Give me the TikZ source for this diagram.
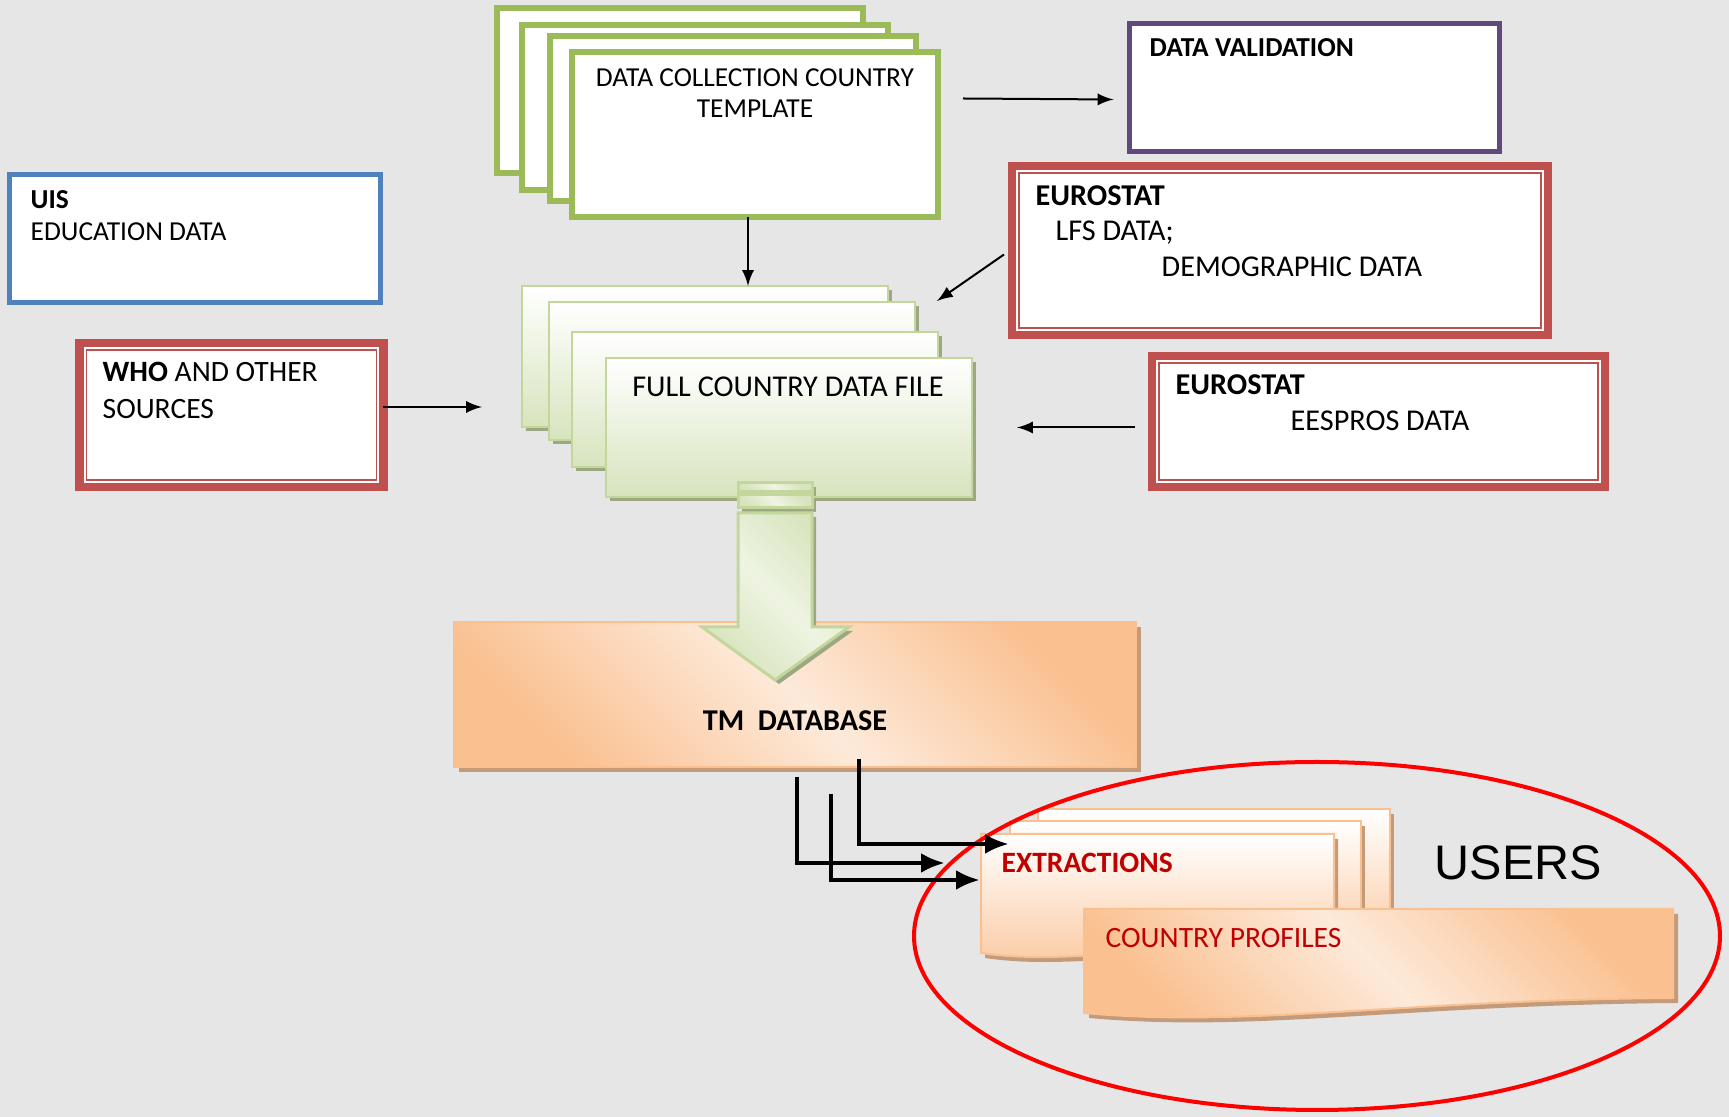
\documentclass[tikz,border=0pt]{standalone}
\usepackage{fontspec}
\setmainfont{Carlito}
\newfontfamily\usersfont{Liberation Sans}
\usetikzlibrary{shadows,arrows.meta}

\definecolor{bggray}{HTML}{E6E6E6}
\definecolor{tplgreen}{HTML}{9BBB59}
\definecolor{uisblue}{HTML}{4F81BD}
\definecolor{valpurple}{HTML}{604A7B}
\definecolor{srcred}{HTML}{C0504D}
\definecolor{fileedge}{HTML}{C3D69B}
\definecolor{filegreen}{HTML}{D7E4BD}
\definecolor{filelight}{HTML}{EEF4E2}
\definecolor{fileshadow}{HTML}{9BA882}
\definecolor{dborange}{HTML}{FAC090}
\definecolor{dblight}{HTML}{FDEADA}
\definecolor{dbshadow}{HTML}{C39B7B}
\definecolor{xtrred}{HTML}{C00000}

\tikzset{
  box/.style={anchor=north west, inner sep=0pt, outer sep=0pt},
  tplbox/.style={box, draw=tplgreen, line width=0.6mm, fill=white, minimum width=36.6mm, minimum height=16.5mm},
  filebox/.style={box, draw=fileedge, line width=0.2mm, top color=white, bottom color=filegreen,
    general shadow={fill=fileshadow, shadow xshift=0.4mm, shadow yshift=-0.4mm}, minimum width=36.6mm},
  srcbox/.style={box, draw=srcred, line width=0.85mm, fill=white,
    path picture={\draw[srcred, line width=0.15mm]
      ([shift={(0.72mm,0.72mm)}]path picture bounding box.south west) rectangle
      ([shift={(-0.72mm,-0.72mm)}]path picture bounding box.north east);}},
  lbl/.style={anchor=base west, inner sep=0pt, font=\fontsize{7.8}{9}\selectfont},
  big/.style={font=\fontsize{8.6}{10}\selectfont},
  orangefill/.style={draw=dborange, line width=0.2mm, left color=dborange, right color=dborange,
    middle color=dblight, shading angle=135,
    general shadow={fill=dbshadow, shadow xshift=0.5mm, shadow yshift=-0.5mm}},
  xtrfill/.style={draw=dborange, line width=0.2mm, top color=white, bottom color=dborange!85!white,
    general shadow={fill=dbshadow, shadow xshift=0.4mm, shadow yshift=-0.5mm}},
  greenarrow/.style={draw=fileedge, line width=0.3mm, left color=filegreen, right color=filegreen,
    middle color=filelight, shading angle=135,
    general shadow={fill=fileshadow, shadow xshift=0.4mm, shadow yshift=-0.4mm}},
  thinarrow/.style={-latex, line width=0.2mm},
  elbow/.style={-{Latex[length=2.4mm,width=2mm]}, line width=0.45mm},
}

\begin{document}
\begin{tikzpicture}[x=0.1mm, y=-0.1mm]
  \fill[bggray] (0,0) rectangle (1729,1117);
  \useasboundingbox (0,0) rectangle (1729,1117);
  %-- data collection templates
  \node[tplbox] (tpl1) at (497,8) {};
  \node[tplbox] (tpl2) at (522,25) {};
  \node[tplbox] (tpl3) at (550,36) {};
  \node[tplbox] (tpl4) at (572,52) {};
  \node[lbl, anchor=base] (tplT1) at (755,87) {DATA COLLECTION COUNTRY};
  \node[lbl, anchor=base] (tplT2) at (755,118) {TEMPLATE};
  %-- data validation
  \node[box, draw=valpurple, line width=0.47mm, fill=white, minimum width=37mm, minimum height=12.8mm] (val) at (1129.5,23.5) {};
  \node[lbl] (valT) at (1149,57) {\textbf{DATA VALIDATION}};
  %-- uis
  \node[box, draw=uisblue, line width=0.5mm, fill=white, minimum width=37.1mm, minimum height=12.8mm] (uis) at (9.5,174.5) {};
  \node[lbl] (uisT1) at (30,209) {\textbf{UIS}};
  \node[lbl] (uisT2) at (30,241) {EDUCATION DATA};
  %-- who
  \node[srcbox, minimum width=30.4mm, minimum height=14.4mm] (who) at (79.5,343) {};
  \node[lbl, font=\fontsize{8.4}{10}\selectfont] (whoT1) at (102,382) {\textbf{WHO} AND OTHER};
  \node[lbl, font=\fontsize{8.4}{10}\selectfont] (whoT2) at (102,419) {SOURCES};
  %-- eurostat lfs
  \node[srcbox, minimum width=53.6mm, minimum height=16.9mm] (lfs) at (1012,166) {};
  \node[lbl, big] (lfsT1) at (1035,206) {\textbf{EUROSTAT}};
  \node[lbl, big] (lfsT2) at (1055,241) {LFS DATA;};
  \node[lbl, big] (lfsT3) at (1161,277) {DEMOGRAPHIC DATA};
  %-- eurostat eespros
  \node[srcbox, minimum width=45.3mm, minimum height=13.1mm] (ees) at (1152,356) {};
  \node[lbl, big] (eesT1) at (1175,395) {\textbf{EUROSTAT}};
  \node[lbl, big] (eesT2) at (1290,431) {EESPROS DATA};
  %-- full country data files
  \node[filebox, minimum height=14.1mm] (file1) at (522,286) {};
  \node[filebox, minimum height=13.8mm] (file2) at (549,302) {};
  \node[filebox, minimum height=13.5mm] (file3) at (572,332) {};
  \node[filebox, minimum height=13.9mm] (file4) at (606,358) {};
  \node[lbl, big, anchor=base] (fileT) at (788,397) {FULL COUNTRY DATA FILE};
  %-- tm database
  \node[box, orangefill, minimum width=68.2mm, minimum height=14.5mm] (db) at (454,622) {};
  \node[lbl, big, anchor=base] (dbT) at (795,731) {\textbf{TM\ \ DATABASE}};
  %-- block arrow into the database
  \path[greenarrow] (738,483) rectangle (812,492);
  \path[greenarrow] (738,495) rectangle (812,508);
  \path[greenarrow] (738,513) -- (812,513) -- (812,627) -- (849,627) -- (775,680) -- (702,627) -- (738,627) -- cycle;
  %-- extractions
  \path[xtrfill] (1038,809) rectangle (1390,950);
  \path[xtrfill] (1010,821) rectangle (1361,950);
  \path[xtrfill] (981,834) -- (1334,834) -- (1334,950) .. controls (1200,935) and (1080,968) .. (981,953) -- cycle;
  \coordinate (xtr) at (981,834);
  \node[lbl, font=\fontsize{8.4}{10}\selectfont\bfseries, text=xtrred] (xtrT) at (1001,873) {EXTRACTIONS};
  %-- country profiles
  \path[orangefill] (1084,909) -- (1673,909) -- (1673,998) .. controls (1400,1000) and (1250,1028) .. (1084,1013) -- cycle;
  \node[lbl, font=\fontsize{8.4}{10}\selectfont, text=xtrred] (cpT) at (1105,948) {COUNTRY PROFILES};
  %-- users
  \draw[red, line width=0.4mm] (1317,936) ellipse [x radius=403, y radius=174];
  \node[lbl, font=\usersfont\fontsize{13.8}{16}\selectfont] (usersT) at (1434,880) {USERS};
  %-- connectors
  \draw[thinarrow] ([xshift=-0.7mm]tpl4.south) -- ([xshift=-0.7mm]tpl4.south |- file1.north);
  \draw[thinarrow] ([shift={(25,-36)}]tpl4.east) -- ([shift={(-16,12)}]val.west);
  \draw[thinarrow] ([shift={(-8,4)}]lfs.west) -- ([shift={(22,-1)}]file2.north east);
  \draw[thinarrow] ([shift={(-17,0)}]ees.west |- file4.east) -- ([shift={(45,0)}]file4.east);
  \coordinate (whoOut) at ([yshift=0.8mm]who.east);
  \draw[thinarrow] (whoOut) -- ([xshift=-4mm]file1.west |- whoOut);
  \draw[elbow] ([shift={(64,-8)}]db.south) |- ([shift={(28,10)}]xtr);
  \draw[elbow] ([shift={(2,10)}]db.south) |- ([shift={(-36,29)}]xtr);
  \draw[elbow] ([shift={(36,27)}]db.south) |- ([shift={(-1,46)}]xtr);
\end{tikzpicture}
\end{document}
